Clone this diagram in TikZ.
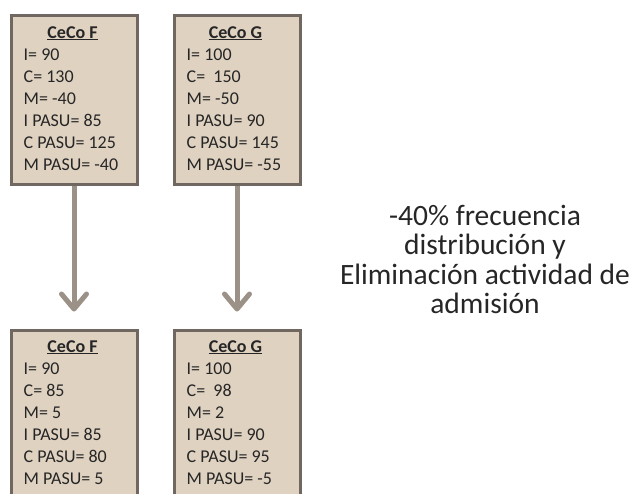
\documentclass[tikz,border=0pt]{standalone}
\usepackage{fontspec}
\setmainfont{Carlito}
\usetikzlibrary{arrows.meta,shadows}

\definecolor{boxfill}{HTML}{DFD2C1}
\definecolor{boxline}{HTML}{706860}
\definecolor{arrowcol}{HTML}{9C9187}
\definecolor{txt}{HTML}{262626}

\tikzset{
  cecobox/.style={draw=boxline, line width=3pt, fill=boxfill,
    minimum width=126pt, minimum height=169pt, inner sep=0pt, anchor=north west,
    drop shadow={shadow xshift=1.2pt, shadow yshift=-1.2pt, fill=black, opacity=0.18}},
  boxtitle/.style={anchor=base, inner sep=0pt, text=txt,
    font=\fontsize{18}{22}\selectfont\bfseries},
  boxbody/.style={anchor=base west, inner sep=0pt, text=txt,
    font=\fontsize{18}{22}\selectfont},
  flow/.style={draw=arrowcol, line width=5pt,
    -{Straight Barb[length=15pt,width=25pt,round]}},
  note/.style={anchor=base, inner sep=0pt, text=txt,
    font=\fontsize{29.5}{29.5}\selectfont},
}

\begin{document}
\begin{tikzpicture}[x=1pt, y=-1pt]
  \useasboundingbox (0,0) rectangle (635,493);
  \clip (0,0) rectangle (635,493);

  % cost-centre boxes, before and after
  \node[cecobox] (fTop) at (9.5,13.5) {};
  \node[cecobox] (gTop) at (172.5,13.5) {};
  \node[cecobox] (fBot) at (9.5,328.5) {};
  \node[cecobox] (gBot) at (172.5,328.5) {};

  % transitions
  \draw[flow] (fTop.south) -- ([yshift=17pt]fBot.north);
  \draw[flow] (gTop.south) -- ([yshift=17pt]gBot.north);

  % CeCo F, before
  \node[boxtitle] (fTopT) at (72.5,38) {\underline{CeCo F}};
  \node[boxbody] (fTopB) at (23.5,60) {\begin{tabular}[t]{@{}l@{}}
    I= 90\\ C= 130\\ M= -40\\ I PASU= 85\\ C PASU= 125\\ M PASU= -40\end{tabular}};

  % CeCo G, before
  \node[boxtitle] (gTopT) at (235.5,38) {\underline{CeCo G}};
  \node[boxbody] (gTopB) at (186.5,60) {\begin{tabular}[t]{@{}l@{}}
    I= 100\\ C= \ 150\\ M= -50\\ I PASU= 90\\ C PASU= 145\\ M PASU= -55\end{tabular}};

  % CeCo F, after
  \node[boxtitle] (fBotT) at (72.5,352) {\underline{CeCo F}};
  \node[boxbody] (fBotB) at (23.5,374) {\begin{tabular}[t]{@{}l@{}}
    I= 90\\ C= 85\\ M= 5\\ I PASU= 85\\ C PASU= 80\\ M PASU= 5\end{tabular}};

  % CeCo G, after
  \node[boxtitle] (gBotT) at (235.5,352) {\underline{CeCo G}};
  \node[boxbody] (gBotB) at (186.5,374) {\begin{tabular}[t]{@{}l@{}}
    I= 100\\ C= \ 98\\ M= 2\\ I PASU= 90\\ C PASU= 95\\ M PASU= -5\end{tabular}};

  % measures applied
  \node[note] (measures) at (485,225) {\begin{tabular}[t]{@{}c@{}}
    -40\% frecuencia\\ distribución y\\ Eliminación actividad de\\ admisión\end{tabular}};
\end{tikzpicture}
\end{document}
